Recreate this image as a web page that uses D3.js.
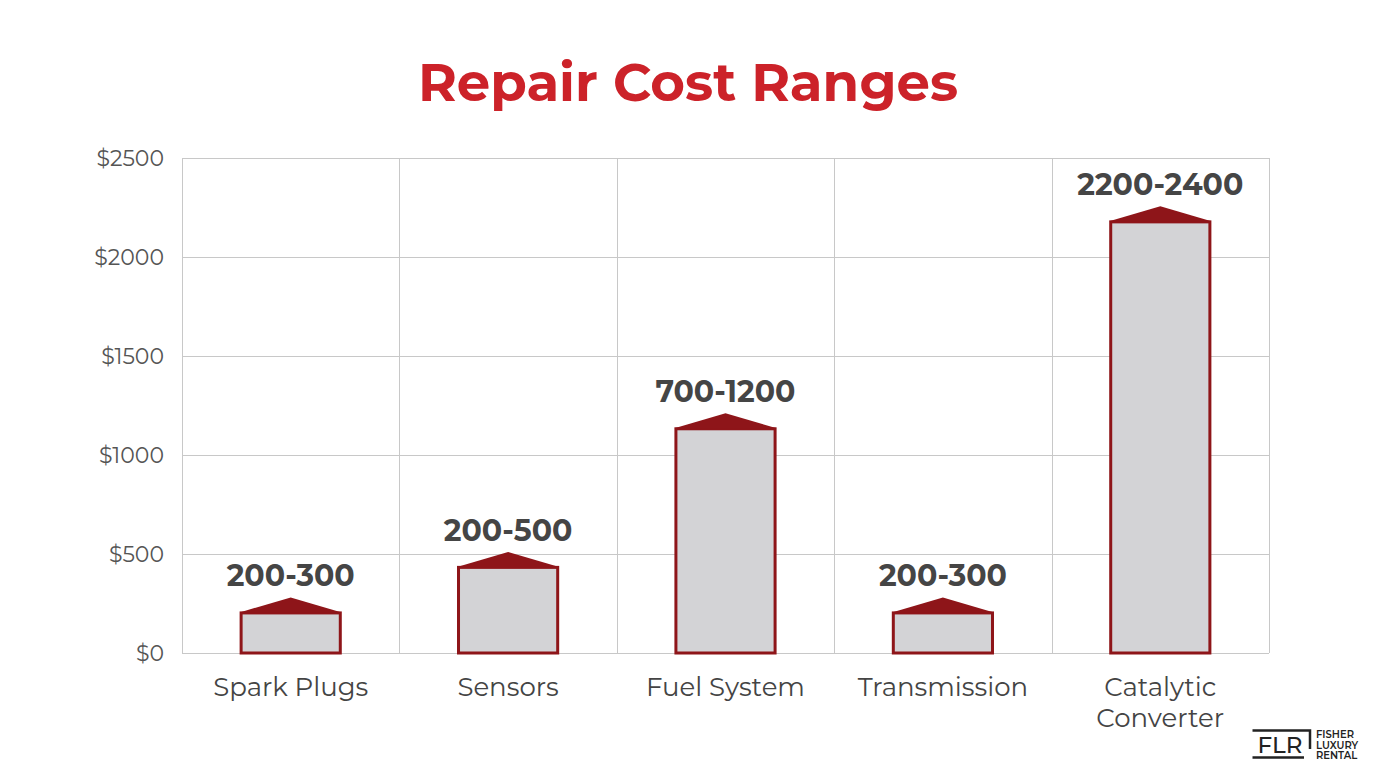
<!DOCTYPE html>
<html>
<head>
<meta charset="utf-8">
<script src="https://cdn.jsdelivr.net/npm/d3@7"></script>
<style>
  body { margin: 0; background: #fff; }
  svg { display: block; }
</style>
</head>
<body>
<div id="chart"></div>
<script>
(function() {
  var width = 1376,
    height = 768;

  var categories = ["Spark Plugs", "Sensors", "Fuel System", "Transmission", "Catalytic Converter"];
  var barValues = [210, 440, 1140, 210, 2185];
  var rangeLabels = ["200-300", "200-500", "700-1200", "200-300", "2200-2400"];
  var yTicks = [0, 500, 1000, 1500, 2000, 2500];

  var margin = {top: 158, left: 182, right: 107, bottom: 115};
  var innerW = width - margin.left - margin.right,
    innerH = height - margin.top - margin.bottom;

  var svg = d3.select("#chart")
    .append("svg")
    .attr("width", width)
    .attr("height", height)

  svg.append("text")
    .attr("x", width / 2)
    .attr("y", 101)
    .attr("text-anchor", "middle")
    .attr("font-family", "Montserrat, 'Open Sans', sans-serif")
    .attr("font-weight", 700)
    .attr("font-size", 53)
    .attr("fill", "#cc2229")
    .text("Repair Cost Ranges")

  var g = svg.append("g")
    .attr("transform", "translate(" + margin.left + "," + margin.top + ")")

  var x = d3.scaleBand().domain(categories).range([0, innerW]).paddingInner(0).paddingOuter(0)
  var y = d3.scaleLinear().domain([0, 2500]).range([innerH, 0])

  // grid
  g.selectAll(".hgrid")
    .data(yTicks)
    .enter().append("line")
    .attr("x1", 0).attr("x2", innerW)
    .attr("y1", function(d) { return Math.round(y(d)) + 0.5 })
    .attr("y2", function(d) { return Math.round(y(d)) + 0.5 })
    .attr("stroke", "#c8c8c8")

  var bounds = categories.map(function(c) { return x(c) }).concat([innerW])
  g.selectAll(".vgrid")
    .data(bounds)
    .enter().append("line")
    .attr("x1", function(d) { return Math.round(d) + 0.5 })
    .attr("x2", function(d) { return Math.round(d) + 0.5 })
    .attr("y1", 0).attr("y2", innerH)
    .attr("stroke", "#c8c8c8")

  // y axis labels
  var yAxis = d3.axisLeft(y).tickValues(yTicks).tickSize(0).tickPadding(18)
    .tickFormat(function(d) { return "$" + d })
  var ya = g.append("g").call(yAxis)
  ya.select(".domain").remove()
  ya.selectAll("text")
    .attr("font-family", "Montserrat, 'Open Sans', sans-serif")
    .attr("font-size", 22)
    .attr("fill", "#555")

  // x labels
  var xl = g.selectAll(".xlab")
    .data(categories)
    .enter().append("text")
    .attr("text-anchor", "middle")
    .attr("font-family", "Montserrat, 'Open Sans', sans-serif")
    .attr("font-size", 26)
    .attr("fill", "#444")
    .attr("x", function(d) { return x(d) + x.bandwidth() / 2 })
    .attr("y", innerH + 43)
  xl.each(function(d) {
    var words = d.split(" ")
    var t = d3.select(this)
    if (d.length > 14) {
      words.forEach(function(w, i) {
        t.append("tspan")
          .attr("x", x(d) + x.bandwidth() / 2)
          .attr("dy", i === 0 ? 0 : 31)
          .text(w)
      })
    } else {
      t.text(d)
    }
  })

  // bars
  var bw = x.bandwidth() * 0.47
  var roofH = 14
  var bars = g.selectAll(".bar")
    .data(categories)
    .enter().append("g")
    .attr("class", "bar")

  bars.append("rect")
    .attr("x", function(d) { return x(d) + (x.bandwidth() - bw) / 2 + 1.5 })
    .attr("y", function(d, i) { return y(barValues[i]) + 1.5 })
    .attr("width", bw - 3)
    .attr("height", function(d, i) { return innerH - y(barValues[i]) - 1.5 })
    .attr("fill", "#d3d3d6")
    .attr("stroke", "#8e1519")
    .attr("stroke-width", 3)

  bars.append("path")
    .attr("d", function(d, i) {
      var x0 = x(d) + (x.bandwidth() - bw) / 2,
        x1 = x0 + bw,
        yt = y(barValues[i])
      return "M" + x0 + "," + (yt + 1) + "L" + (x0 + bw / 2) + "," + (yt - roofH) + "L" + x1 + "," + (yt + 1) + "Z"
    })
    .attr("fill", "#8e1519")

  bars.append("text")
    .attr("x", function(d) { return x(d) + x.bandwidth() / 2 })
    .attr("y", function(d, i) { return y(barValues[i]) - roofH - 11 })
    .attr("text-anchor", "middle")
    .attr("font-family", "Montserrat, 'Open Sans', sans-serif")
    .attr("font-weight", 700)
    .attr("font-size", 30)
    .attr("fill", "#454545")
    .text(function(d, i) { return rangeLabels[i] })

  // logo
  var logo = svg.append("g").attr("transform", "translate(1251,729)")
  logo.append("path")
    .attr("d", "M1.5,1.5 H59 V20 M53,28.5 H1.5 Z")
    .attr("fill", "none")
    .attr("stroke", "#222")
    .attr("stroke-width", 2.5)
  logo.append("text")
    .attr("x", 29).attr("y", 24)
    .attr("text-anchor", "middle")
    .attr("font-family", "Montserrat, 'DejaVu Sans', sans-serif")
    .attr("font-weight", 500)
    .attr("font-size", 23)
    .attr("fill", "#222")
    .text("FLR")
  logo.selectAll(".lt")
    .data(["FISHER", "LUXURY", "RENTAL"])
    .enter().append("text")
    .attr("x", 65)
    .attr("y", function(d, i) { return 9 + i * 10.5 })
    .attr("font-family", "Montserrat, 'DejaVu Sans', sans-serif")
    .attr("font-weight", 600)
    .attr("font-size", 10)
    .attr("fill", "#222")
    .text(function(d) { return d })
})();
</script>
</body>
</html>
